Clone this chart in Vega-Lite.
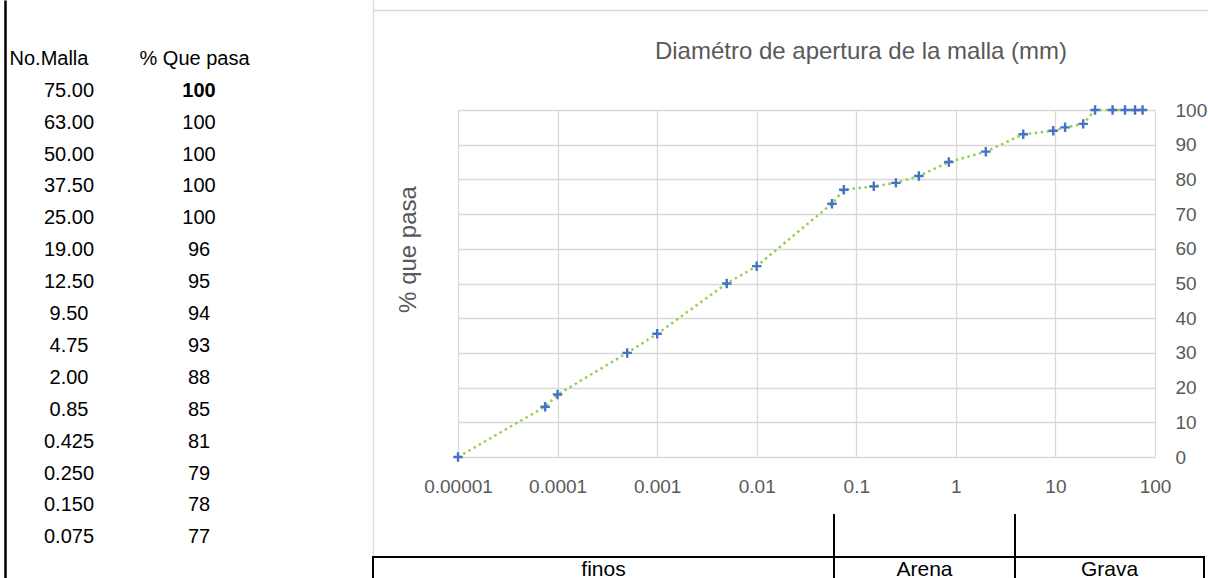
{
  "$schema": "https://vega.github.io/schema/vega-lite/v6.json",
  "padding": {"left": 2, "top": 0, "right": 0, "bottom": 0},
  "background": "white",
  "config": {"font": "Liberation Sans", "view": {"stroke": null}},
  "datasets": {
    "tamices": [
      {"malla": "75.00", "pasa": "100"},
      {"malla": "63.00", "pasa": "100"},
      {"malla": "50.00", "pasa": "100"},
      {"malla": "37.50", "pasa": "100"},
      {"malla": "25.00", "pasa": "100"},
      {"malla": "19.00", "pasa": "96"},
      {"malla": "12.50", "pasa": "95"},
      {"malla": "9.50", "pasa": "94"},
      {"malla": "4.75", "pasa": "93"},
      {"malla": "2.00", "pasa": "88"},
      {"malla": "0.85", "pasa": "85"},
      {"malla": "0.425", "pasa": "81"},
      {"malla": "0.250", "pasa": "79"},
      {"malla": "0.150", "pasa": "78"},
      {"malla": "0.075", "pasa": "77"}
    ],
    "grafica": [
      {"d": 0.00001, "p": 0},
      {"d": 0.000075, "p": 14.5},
      {"d": 0.0001, "p": 18},
      {"d": 0.0005, "p": 30},
      {"d": 0.001, "p": 35.5},
      {"d": 0.005, "p": 50},
      {"d": 0.01, "p": 55},
      {"d": 0.057, "p": 73},
      {"d": 0.075, "p": 77},
      {"d": 0.15, "p": 78},
      {"d": 0.25, "p": 79},
      {"d": 0.425, "p": 81},
      {"d": 0.85, "p": 85},
      {"d": 2.0, "p": 88},
      {"d": 4.75, "p": 93},
      {"d": 9.5, "p": 94},
      {"d": 12.5, "p": 95},
      {"d": 19, "p": 96},
      {"d": 25, "p": 100},
      {"d": 37.5, "p": 100},
      {"d": 50, "p": 100},
      {"d": 63, "p": 100},
      {"d": 75, "p": 100}
    ],
    "zonas": [
      {"zona": "finos", "desde": 0.0000014, "hasta": 0.06},
      {"zona": "Arena", "desde": 0.06, "hasta": 3.95},
      {"zona": "Grava", "desde": 3.95, "hasta": 313}
    ],
    "borde": [{"k": "borde"}]
  },
  "bounds": "flush",
  "spacing": 0,
  "hconcat": [
    {
      "width": 1,
      "height": 578,
      "data": {"name": "borde"},
      "mark": {"type": "point", "opacity": 0},
      "encoding": {
        "y": {"field": "k", "type": "nominal",
              "axis": {"orient": "left", "title": null, "labels": false, "ticks": false, "grid": false, "domain": true, "domainColor": "black", "domainWidth": 2.5}}
      }
    },
    {
      "width": 366,
      "height": 578,
      "data": {"name": "tamices"},
      "transform": [{"fold": ["malla", "pasa"], "as": ["columna", "valor"]}],
      "encoding": {
        "x": {"field": "columna", "type": "nominal", "sort": ["malla", "pasa"],
              "scale": {"type": "point", "padding": 0.9077, "align": 0.267},
              "axis": {"orient": "top", "title": null, "domain": false, "ticks": false, "tickSize": 0, "labelPadding": 0, "offset": -64,
                       "labelExpr": "datum.value == 'malla' ? 'No.Malla' : '% Que pasa'",
                       "labelAlign": "left", "labelOffset": -60, "labelBaseline": "alphabetic", "labelFontSize": 20, "labelColor": "black", "labelAngle": 0, "grid": false}},
        "y": {"field": "malla", "type": "ordinal", "sort": null,
              "scale": {"type": "point", "padding": 0, "range": [96.7, 543.3]}, "axis": null}
      },
      "layer": [
        {
          "mark": {"type": "text", "fontSize": 20, "color": "black", "baseline": "alphabetic", "align": "center"},
          "encoding": {
            "text": {"field": "valor", "type": "nominal",
                     "condition": {"test": "datum.malla == '75.00' && datum.columna == 'pasa'", "value": ""}}
          }
        },
        {
          "mark": {"type": "text", "fontSize": 20, "color": "black", "baseline": "alphabetic", "align": "center", "fontWeight": "bold"},
          "encoding": {
            "text": {"condition": {"test": "datum.malla == '75.00' && datum.columna == 'pasa'", "field": "valor", "type": "nominal"}, "value": ""}
          }
        }
      ]
    },
    {
      "width": 1,
      "height": 578,
      "data": {"name": "borde"},
      "mark": {"type": "point", "opacity": 0},
      "encoding": {
        "y": {"field": "k", "type": "nominal",
              "axis": {"orient": "right", "title": null, "labels": false, "ticks": false, "grid": false, "domain": true, "domainColor": "#d9d9d9", "domainWidth": 1.3}}
      }
    },
    {
      "bounds": "flush",
      "spacing": 56,
      "center": true,
      "vconcat": [
        {
          "width": 867,
          "height": 54,
          "data": {"name": "borde"},
          "mark": {"type": "point", "opacity": 0},
          "encoding": {
            "x": {"field": "k", "type": "nominal",
                  "axis": {"orient": "top", "offset": -10, "domain": true, "domainColor": "#d9d9d9", "domainWidth": 1.3,
                           "labels": false, "ticks": false, "grid": false, "title": null}}
          }
        },
        {
          "width": 697,
          "height": 347,
          "data": {"name": "grafica"},
          "title": {"text": "Diamétro de apertura de la malla (mm)", "fontSize": 24, "fontWeight": "normal", "color": "#595959",
                    "anchor": "middle", "frame": "group", "dx": 54.5, "baseline": "alphabetic", "offset": 17.7},
          "encoding": {
            "x": {"field": "d", "type": "quantitative",
                  "scale": {"type": "log", "domain": [0.00001, 100], "nice": false},
                  "axis": {"values": [0.00001, 0.0001, 0.001, 0.01, 0.1, 1, 10, 100], "format": "~g", "title": null,
                           "domain": false, "ticks": false, "tickSize": 0, "grid": true, "gridColor": "#d9d9d9", "gridWidth": 1.3,
                           "labelFontSize": 19, "labelColor": "#595959", "labelPadding": 35, "labelBaseline": "alphabetic",
                           "labelFlush": false, "labelOverlap": false}},
            "y": {"field": "p", "type": "quantitative",
                  "scale": {"domain": [0, 100], "nice": false},
                  "axis": {"orient": "right", "values": [0, 10, 20, 30, 40, 50, 60, 70, 80, 90, 100],
                           "title": "% que pasa", "titleX": -739.3, "titleY": 139, "titleAngle": 270, "titleAlign": "center",
                           "titleBaseline": "alphabetic", "titleFontSize": 24, "titleFontWeight": "normal", "titleColor": "#595959",
                           "domain": false, "ticks": false, "tickSize": 0, "grid": true, "gridColor": "#d9d9d9", "gridWidth": 1.3,
                           "labelFontSize": 19, "labelColor": "#595959", "labelPadding": 20, "labelAlign": "left", "labelBaseline": "middle"}}
          },
          "layer": [
            {"mark": {"type": "line", "color": "#92d050", "strokeWidth": 2.5, "strokeDash": [2.5, 3.5]}},
            {"mark": {"type": "point", "shape": "M-1,0H1M0,-1V1", "filled": false, "color": "#4472c4", "strokeWidth": 2.4, "size": 90, "opacity": 1}}
          ]
        },
        {
          "width": 867,
          "height": 65,
          "data": {"name": "zonas"},
          "layer": [
            {
              "mark": {"type": "rect", "fill": "white", "stroke": "black", "strokeWidth": 2},
              "encoding": {
                "x": {"field": "desde", "type": "quantitative", "scale": {"type": "log", "domain": [0.0000014, 720], "nice": false}, "axis": null},
                "x2": {"field": "hasta"},
                "y": {"datum": -0.2, "type": "quantitative", "scale": {"domain": [0, 3.1], "nice": false}, "axis": null},
                "y2": {"datum": 1}
              }
            },
            {
              "transform": [{"filter": "datum.hasta < 300"}],
              "mark": {"type": "rule", "color": "black", "strokeWidth": 2},
              "encoding": {
                "x": {"field": "hasta", "type": "quantitative"},
                "y": {"datum": 0, "type": "quantitative"},
                "y2": {"datum": 3.05}
              }
            },
            {
              "transform": [{"calculate": "sqrt(datum.desde * datum.hasta)", "as": "centro"}],
              "mark": {"type": "text", "fontSize": 21, "baseline": "alphabetic", "color": "black", "align": "center"},
              "encoding": {
                "x": {"field": "centro", "type": "quantitative"},
                "y": {"datum": 0.08, "type": "quantitative"},
                "text": {"field": "zona"}
              }
            }
          ]
        }
      ]
    }
  ]
}
